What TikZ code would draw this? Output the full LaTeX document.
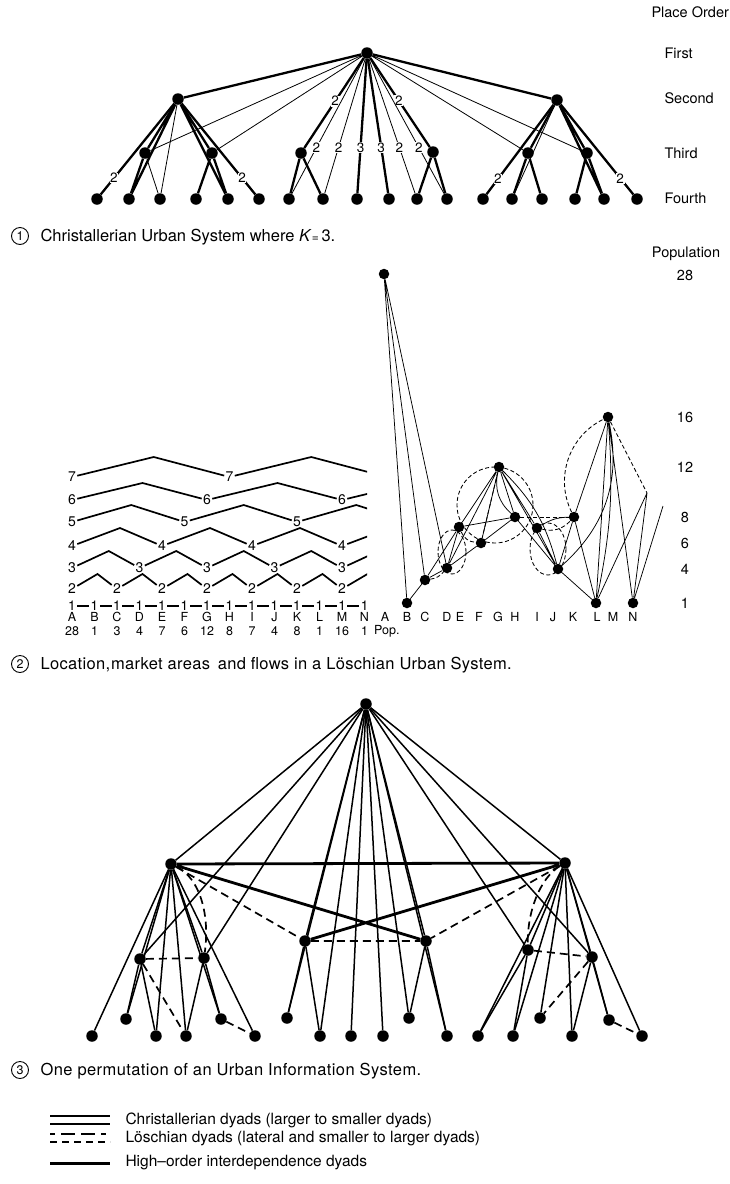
\documentclass[tikz,border=0pt]{standalone}
\usepackage{fontspec}
\setmainfont{TeX Gyre Heros}
\newcommand{\myfs}[1]{\fontsize{#1}{#1}\selectfont}
\begin{document}
\begin{tikzpicture}[x=1pt,y=-1pt,
  dot/.style={circle,fill=black,inner sep=0pt,minimum size=11.5pt},
  pdot/.style={circle,fill=black,inner sep=0pt,minimum size=10.5pt},
  thn/.style={line width=0.8pt},
  thk/.style={line width=2.3pt},
  num/.style={font=\myfs{13.5},inner sep=0.6pt,fill=white},
  ord/.style={anchor=west,font=\myfs{14.5}},
  captxt/.style={anchor=west,font=\myfs{16.5}},
  legtxt/.style={anchor=west,font=\myfs{15.5}},
  cnum/.style={circle,draw,line width=0.9pt,inner sep=0pt,minimum size=17pt,font=\myfs{12.5}},
  stl/.style={font=\myfs{14},inner sep=1.2pt},
  zig/.style={line width=1.7pt},
  one/.style={font=\myfs{13.5},inner sep=1.5pt},
  sml/.style={font=\myfs{12.5},inner sep=0pt},
  popt/.style={font=\myfs{14.5}},
  pth/.style={line width=0.75pt},
  pdsh/.style={line width=0.85pt,dash pattern=on 4pt off 2.5pt},
  mid/.style={line width=1.5pt},
  hod/.style={line width=2.8pt},
  dsh/.style={line width=1.7pt,dash pattern=on 8pt off 5pt},
]
\path[use as bounding box] (0,0) rectangle (729,1184);

%% ---------------- Panel 1 ----------------
\node[dot] (A) at (367,53) {};
\node[dot] (S1) at (178,99) {};
\node[dot] (S2) at (557,100) {};
\foreach \x/\y [count=\i] in {145/153,212/153,301/153,433/152,528/153,587/153}
  \node[dot] (T\i) at (\x,\y) {};
\foreach \x [count=\i] in {97,129,160,196,228,259,289,323,357,389,417,447,483,512,542,575,604,637}
  \node[dot] (F\i) at (\x,199) {};

\draw[thk] (A)--(S1) (A)--(S2);
\draw[thn] (A)--(T1) (A)--(T2) (A)--(T5) (A)--(T6);
\draw[thk] (A) -- node[num,pos=0.48]{2} (T3);
\draw[thk] (A) -- node[num,pos=0.48]{2} (T4);
\draw[thn] (A) -- node[num,pos=0.66]{2} (F7);
\draw[thn] (A) -- node[num,pos=0.66]{2} (F8);
\draw[thk] (A) -- node[num,pos=0.66]{3} (F9);
\draw[thk] (A) -- node[num,pos=0.66]{3} (F10);
\draw[thn] (A) -- node[num,pos=0.66]{2} (F11);
\draw[thn] (A) -- node[num,pos=0.66]{2} (F12);
% left group
\draw[thk] (S1) -- node[num,pos=0.82]{2} (F1);
\draw[thk] (S1)--(F2) (S1)--(T1) (S1)--(T2) (S1)--(F5) (T1)--(F2) (T2)--(F4) (T2)--(F5);
\draw[thn] (S1)--(F3) (T1)--(F3);
\draw[thk] (S1) -- node[num,pos=0.82]{2} (F6);
% middle group
\draw[thk] (T3)--(F7) (T3)--(F8) (T4)--(F11) (T4)--(F12);
% right group
\draw[thk] (S2) -- node[num,pos=0.83]{2} (F13);
\draw[thk] (S2)--(T5) (S2)--(T6) (S2)--(F17) (T5)--(F14) (T5)--(F15) (T6)--(F16) (T6)--(F17);
\draw[thn] (S2)--(F14);
\draw[thk] (S2) -- node[num,pos=0.82]{2} (F18);

\node[ord] (po) at (648,12) {Place Order};
\node[ord] (o1) at (661,53) {First};
\node[ord] (o2) at (661,98) {Second};
\node[ord] (o3) at (661,153) {Third};
\node[ord] (o4) at (661,198) {Fourth};

\node[cnum] (c1) at (20,236) {1};
\node[captxt] (t1) at (37,237) {Christallerian Urban System where \textit{K}{\myfs{12}=}\,3.};

%% ---------------- Panel 2 : left ----------------
\foreach \k/\yy/\hh in {2/589/15,3/568/17,4/546/18,5/522/17,6/500/17,7/477/20}{
  \pgfmathsetmacro{\sp}{22.5*\k}
  \pgfmathtruncatemacro{\nn}{floor(295/\sp)}
  \pgfmathtruncatemacro{\nm}{\nn-1}
  \foreach \j in {0,...,\nn} \node[stl] (L\k-\j) at ({72+\sp*\j},\yy) {\k};
  \foreach \j in {0,...,\nm}{
    \pgfmathtruncatemacro{\jn}{\j+1}
    \draw[zig] (L\k-\j) -- ({72+\sp*\j+\sp/2+3},{\yy-\hh}) -- (L\k-\jn);
  }
  \begin{scope}
    \clip (0,0) rectangle (367,1184);
    \draw[zig] (L\k-\nn) -- ({72+\sp*\nn+\sp/2+3},{\yy-\hh}) -- ({72+\sp*(\nn+1)},\yy);
  \end{scope}
}
\foreach \j in {0,...,13} \node[one] (R\j) at ({72+22.5*\j},606) {1};
\foreach \j in {0,...,12}{
  \pgfmathtruncatemacro{\jn}{\j+1}
  \draw[line width=2.2pt] (R\j) -- (R\jn);
}
\foreach \l/\p [count=\j from 0] in {A/28,B/1,C/3,D/4,E/7,F/6,G/12,H/8,I/7,J/4,K/8,L/1,M/16,N/1}{
  \node[sml] (la\j) at ({72+22.5*\j},617) {\l};
  \node[sml] (lp\j) at ({72+22.5*\j},631) {\p};
}
\node[sml,anchor=west] (popl) at (374,631) {Pop.};

%% ---------------- Panel 2 : right ----------------
\foreach \n/\x/\y in {A/384/274,B/407/603,C/425/580,D/447/568,E/459/527,F/481/543,G/499/467,H/515/517,I/537/528,J/558/569,K/574/517,L/596/603,M/608/417,N/633/603}
  \node[pdot] (q\n) at (\x,\y) {};
\coordinate (qP) at (647,493);
\coordinate (qQ) at (663,506);

\draw[pth] (qA)--(qB) (qA)--(qC) (qA)--(qD) (qB)--(qC) (qC)--(qD) (qC)--(qE)
  (qD)--(qE) (qD)--(qF) (qD)--(qG) (qE)--(qG) (qE)--(qH) (qF)--(qG) (qF)--(qH)
  (qG)--(qH) (qG) to[bend right=30] (qH) (qG)--(qI) (qG)--(qJ) (qG) to[bend left=15] (qJ)
  (qH)--(qJ) (qI)--(qJ) (qI) to[bend left=15] (qK) (qJ)--(qK) (qJ)--(qL)
  (qJ) to[bend right=30] (qM) (qK)--(qL) (qK)--(qM) (qM)--(qL) (qM) to[bend left=8] (qL)
  (qM)--(qN) (qP)--(qL) (qP)--(qN) (qN)--(qQ);
\draw[pdsh] (452,552) ellipse (14 and 22);
\draw[pdsh] (495,505) ellipse (38 and 38);
\draw[pdsh] (548,549) ellipse (18 and 26);
\draw[pdsh] (qC) to[bend right=20] (qD);
\draw[pdsh] (qE) to[bend right=30] (qF);
\draw[pdsh] (qG)--(qF);
\draw[pdsh] (qH)--(qK);
\draw[pdsh] (qI) to[bend right=30] (qK);
\draw[pdsh] (qK) to[bend left=45] (qM);
\draw[pdsh] (qM)--(qP);

\foreach \n/\x in {A/385,B/407,C/425,D/447,E/460,F/479,G/498,H/515,I/537,J/553,K/573,L/597,M/613,N/633}
  \node[sml] (ql\n) at (\x,617) {\n};

\node[popt] (ptitle) at (686,254) {Population};
\foreach \v/\y in {28/275,16/417,12/467,8/517,6/543,4/569,1/603}
  \node[popt] (pv\v) at (685,\y) {\v};

\node[cnum] (c2) at (20,664) {2};
\node[captxt] (t2) at (37,665) {\addfontfeature{LetterSpace=2}Location,\kern1pt market areas\, and flows in a Löschian Urban System.};

%% ---------------- Panel 3 ----------------
\node[dot] (AP) at (366,704) {};
\node[dot] (SL) at (171,864) {};
\node[dot] (SR) at (565,863) {};
\foreach \x/\y [count=\i] in {140/959,204/958,305/941,426/941,528/950,592/957}
  \node[dot] (U\i) at (\x,\y) {};
\foreach \x/\y [count=\i] in {92/1036,126/1019,156/1036,186/1036,221/1019,255/1036,287/1018,320/1036,351/1036,383/1036,409/1018,447/1036,478/1036,513/1036,540/1018,572/1036,609/1020,642/1036}
  \node[dot] (G\i) at (\x,\y) {};

\draw[mid] (AP)--(SL) (AP)--(SR);
\foreach \i in {1,...,6} \draw[mid] (AP)--(U\i);
\foreach \i in {7,...,12} \draw[mid] (AP)--(G\i);
% left group
\foreach \i in {1,...,6} \draw[mid] (SL)--(G\i);
\draw[mid] (SL)--(U1) (SL)--(U2) (U1)--(G2) (U1)--(G3) (U2)--(G4) (U2)--(G5);
% middle
\draw[mid] (U3)--(G7) (U3)--(G8) (U4)--(G11) (U4)--(G12);
% right group
\foreach \i in {13,...,18} \draw[mid] (SR)--(G\i);
\draw[mid] (SR)--(U5) (SR)--(U6) (U5)--(G13) (U5)--(G14) (U6)--(G16) (U6)--(G17);
% high order
\draw[hod] (SL)--(SR) (SL)--(U4) (SR)--(U3);
% loschian
\draw[dsh] (SL)--(U3) (SR)--(U4) (U3)--(U4) (U1)--(U2) (U1)--(G4) (G5)--(G6)
  (U5)--(U6) (U6)--(G15) (G17)--(G18);
\draw[dsh] (SL) .. controls (200,878) and (210,915) .. (U2);
\draw[dsh] (SR) .. controls (540,878) and (527,912) .. (U5);

\node[cnum] (c3) at (20,1070) {3};
\node[captxt] (t3) at (37,1071) {\addfontfeature{LetterSpace=2.5}One permutation of an Urban Information System.};

%% ---------------- Legend ----------------
\coordinate (l1a) at (50,1116); \coordinate (l1b) at (110,1116);
\coordinate (l2a) at (50,1124); \coordinate (l2b) at (110,1124);
\coordinate (l3a) at (50,1134); \coordinate (l3b) at (110,1134);
\coordinate (l4a) at (50,1142); \coordinate (l4b) at (110,1142);
\coordinate (l5a) at (50,1163); \coordinate (l5b) at (110,1163);
\draw[line width=1.1pt] (l1a)--(l1b) (l2a)--(l2b);
\draw[line width=1.3pt,dash pattern=on 5pt off 6pt on 14pt off 6pt on 14pt off 6pt] (l3a)--(l3b);
\draw[line width=1.3pt,dash pattern=on 7pt off 5pt] (l4a)--(l4b);
\draw[line width=3pt] (l5a)--(l5b);
\node[legtxt] (g1) at (122,1120) {Christallerian dyads (larger to smaller dyads)};
\node[legtxt] (g2) at (122,1139) {Löschian dyads (lateral and smaller to larger dyads)};
\node[legtxt] (g3) at (122,1163) {High–order interdependence dyads};
\end{tikzpicture}
\end{document}
